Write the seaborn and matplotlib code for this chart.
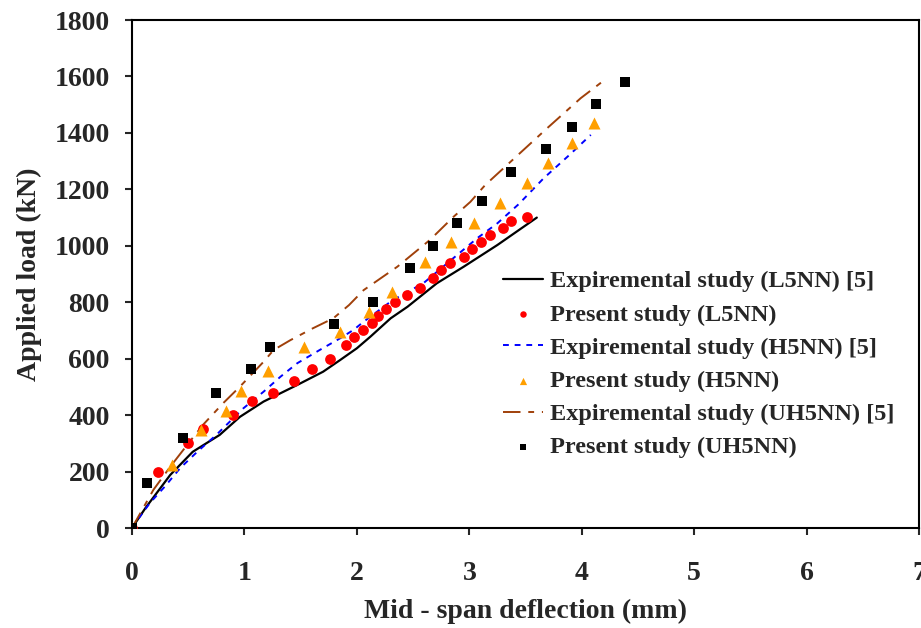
import matplotlib
matplotlib.use('Agg')
import matplotlib.pyplot as plt
import seaborn as sns

# Experimental curves [5]
exp_l5_x = [0, 0.12, 0.34, 0.54, 0.78, 0.96, 1.17, 1.47, 1.70, 1.85, 2.00, 2.12, 2.30, 2.45, 2.71, 2.95, 3.25, 3.60]
exp_l5_y = [0, 71, 188, 270, 330, 394, 448, 507, 554, 595, 637, 678, 743, 784, 867, 926, 1003, 1100]

exp_h5_x = [0, 0.07, 0.16, 0.29, 0.43, 0.58, 0.75, 0.99, 1.17, 1.32, 1.47, 1.67, 1.85, 1.97, 2.06, 2.32, 2.59, 2.89, 3.07, 3.25, 3.44, 3.66, 3.89, 4.08]
exp_h5_y = [0, 40, 89, 146, 213, 270, 330, 424, 483, 536, 584, 631, 672, 702, 731, 808, 867, 967, 1027, 1080, 1148, 1239, 1322, 1393]

exp_uh5_x = [0, 0.10, 0.19, 0.34, 0.49, 0.63, 0.81, 0.96, 1.17, 1.26, 1.41, 1.61, 1.79, 1.93, 2.06, 2.36, 2.65, 2.86, 3.01, 3.14, 3.40, 3.69, 3.99, 4.21]
exp_uh5_y = [0, 71, 135, 217, 294, 365, 442, 501, 589, 631, 666, 708, 743, 790, 843, 926, 1021, 1103, 1156, 1215, 1310, 1416, 1523, 1590]

# Present study (FE results)
pre_l5_x = [0, 0.23, 0.50, 0.63, 0.90, 1.07, 1.25, 1.44, 1.60, 1.76, 1.90, 1.97, 2.05, 2.13, 2.19, 2.26, 2.34,
            2.45, 2.56, 2.68, 2.75, 2.83, 2.95, 3.02, 3.10, 3.18, 3.30, 3.37, 3.51]
pre_l5_y = [0, 200, 300, 350, 400, 450, 480, 520, 565, 600, 650, 678, 702, 725, 751, 776, 802,
            826, 852, 887, 914, 940, 961, 989, 1015, 1038, 1064, 1088, 1103]

pre_h5_x = [0, 0.36, 0.61, 0.84, 0.97, 1.21, 1.53, 1.85, 2.11, 2.31, 2.61, 2.84, 3.04, 3.27, 3.51, 3.70, 3.91, 4.11]
pre_h5_y = [0, 223, 347, 416, 487, 557, 642, 696, 766, 835, 941, 1012, 1082, 1153, 1224, 1292, 1363, 1434]

pre_uh5_x = [0, 0.13, 0.45, 0.75, 1.06, 1.23, 1.80, 2.14, 2.47, 2.68, 2.89, 3.11, 3.37, 3.68, 3.91, 4.13, 4.38]
pre_uh5_y = [0, 160, 320, 480, 562, 640, 722, 802, 921, 1000, 1082, 1160, 1262, 1344, 1422, 1503, 1582]

sns.set_style('ticks')
plt.rcParams['font.family'] = ['Liberation Serif', 'DejaVu Serif']
plt.rcParams['font.weight'] = 'bold'

fig = plt.figure(figsize=(9.21, 6.28), dpi=100)
ax = fig.add_axes([0.1433, 0.1592, 0.8547, 0.8089])

sns.lineplot(x=exp_l5_x, y=exp_l5_y, sort=False, color='black', lw=1.6, ax=ax,
             label='Expiremental study (L5NN) [5]')
sns.scatterplot(x=pre_l5_x, y=pre_l5_y, color='red', marker='o', s=60, linewidth=0, ax=ax,
                label='Present study (L5NN)', zorder=3)
sns.lineplot(x=exp_h5_x, y=exp_h5_y, sort=False, color='blue', lw=1.4, ax=ax,
             linestyle=(0, (3, 3)), label='Expiremental study (H5NN) [5]')
sns.scatterplot(x=pre_h5_x, y=pre_h5_y, color='#ff9f00', marker='^', s=75, linewidth=0, ax=ax,
                label='Present study (H5NN)', zorder=3)
sns.lineplot(x=exp_uh5_x, y=exp_uh5_y, sort=False, color='#a0400a', lw=1.4, ax=ax,
             linestyle=(0, (9, 4, 3, 4)), label='Expiremental study (UH5NN) [5]')
sns.scatterplot(x=pre_uh5_x, y=pre_uh5_y, color='black', marker='s', s=42, linewidth=0, ax=ax,
                label='Present study (UH5NN)', zorder=3)

ax.set_xlim(0, 7)
ax.set_ylim(0, 1800)
ax.set_xticks(range(0, 8))
ax.set_yticks(range(0, 1801, 200))
for s in ax.spines.values():
    s.set_linewidth(1.5)
    s.set_color('black')
ax.tick_params(axis='both', direction='out', length=5, width=1.5, labelsize=20)
ax.tick_params(axis='x', pad=19)
ax.tick_params(axis='y', pad=11)
ax.set_xlabel('Mid - span deflection (mm)', fontsize=20, fontweight='bold', labelpad=9)
ax.set_ylabel('Applied load (kN)', fontsize=20, fontweight='bold', labelpad=9)

leg = ax.legend(loc='upper left', bbox_to_anchor=(0.5356, 0.585), bbox_transform=fig.transFigure,
                frameon=False, fontsize=17.5, markerscale=0.6, handlelength=1.65,
                handletextpad=0.3, labelspacing=0.46, borderaxespad=0)
for t in leg.get_texts():
    t.set_fontweight('bold')

fig.savefig('out.png', dpi=100)
